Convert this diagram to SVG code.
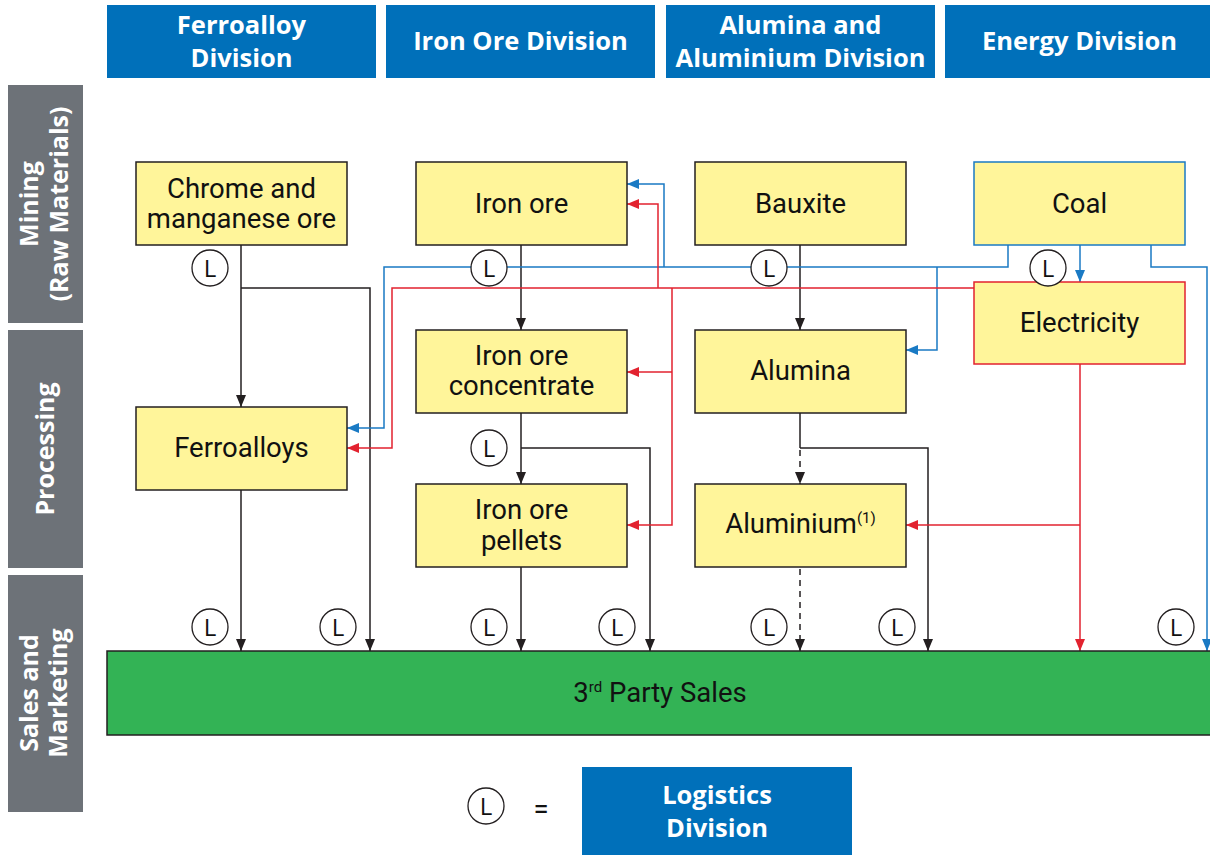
<svg xmlns="http://www.w3.org/2000/svg" width="1210" height="855" viewBox="0 0 1210 855">
  <style>
    .hdr { fill: #0070BA; }
    .hdr-t { font-family: "Open Sans", "Liberation Sans", sans-serif; font-weight: bold; font-size: 25.5px; fill: #ffffff; text-anchor: middle; }
    .side { fill: #6D7278; }
    .side-t { font-family: "Open Sans", "Liberation Sans", sans-serif; font-weight: bold; font-size: 25px; fill: #ffffff; text-anchor: middle; }
    .node { fill: #FFF59A; stroke: #231F20; stroke-width: 1.5; }
    .node-coal { fill: #FFF59A; stroke: #1A7AC4; stroke-width: 1.5; }
    .node-elec { fill: #FFF59A; stroke: #E2222F; stroke-width: 1.5; }
    .node-t { font-family: Roboto, "Liberation Sans", sans-serif; font-size: 27.5px; fill: #111111; text-anchor: middle; }
    .sales { fill: #33B355; stroke: #231F20; stroke-width: 1.5; }
    .blk { fill: none; stroke: #231F20; stroke-width: 1.5; }
    .dash { stroke-dasharray: 6 5; }
    .blu { fill: none; stroke: #1A7AC4; stroke-width: 1.5; }
    .red { fill: none; stroke: #E2222F; stroke-width: 1.5; }
    .lc { fill: #ffffff; stroke: #231F20; stroke-width: 1.3; }
    .lt { font-family: "Open Sans", "Liberation Sans", sans-serif; font-size: 24px; fill: #111111; text-anchor: middle; }
  </style>
  <defs>
    <marker id="ab" markerUnits="userSpaceOnUse" markerWidth="12" markerHeight="12" viewBox="0 0 12 12" refX="12" refY="6" orient="auto">
      <path d="M0,1 L12,6 L0,11 Z" fill="#231F20"/>
    </marker>
    <marker id="au" markerUnits="userSpaceOnUse" markerWidth="12" markerHeight="12" viewBox="0 0 12 12" refX="12" refY="6" orient="auto">
      <path d="M0,1 L12,6 L0,11 Z" fill="#1A7AC4"/>
    </marker>
    <marker id="ar" markerUnits="userSpaceOnUse" markerWidth="12" markerHeight="12" viewBox="0 0 12 12" refX="12" refY="6" orient="auto">
      <path d="M0,1 L12,6 L0,11 Z" fill="#E2222F"/>
    </marker>
  </defs>

  <!-- division headers -->
  <g id="hdr-ferroalloy">
    <rect class="hdr" x="107" y="5" width="269" height="73"/>
    <text class="hdr-t"><tspan x="241.5" y="34">Ferroalloy</tspan><tspan x="241.5" y="67">Division</tspan></text>
  </g>
  <g id="hdr-ironore">
    <rect class="hdr" x="386" y="5" width="269" height="73"/>
    <text class="hdr-t" x="520.5" y="50">Iron Ore Division</text>
  </g>
  <g id="hdr-alumina">
    <rect class="hdr" x="666" y="5" width="269" height="73"/>
    <text class="hdr-t"><tspan x="800.5" y="34">Alumina and</tspan><tspan x="800.5" y="67">Aluminium Division</tspan></text>
  </g>
  <g id="hdr-energy">
    <rect class="hdr" x="945" y="5" width="265" height="73"/>
    <text class="hdr-t" x="1079.5" y="50">Energy Division</text>
  </g>

  <!-- stage bands -->
  <g id="band-mining">
    <rect class="side" x="8" y="85" width="75" height="238"/>
    <text class="side-t" transform="translate(45,204) rotate(-90)"><tspan x="0" y="-7">Mining</tspan><tspan x="0" y="23">(Raw Materials)</tspan></text>
  </g>
  <g id="band-processing">
    <rect class="side" x="8" y="330" width="75" height="238"/>
    <text class="side-t" transform="translate(45,449) rotate(-90)"><tspan x="0" y="9">Processing</tspan></text>
  </g>
  <g id="band-sales">
    <rect class="side" x="8" y="575" width="75" height="237"/>
    <text class="side-t" transform="translate(45,693) rotate(-90)"><tspan x="0" y="-7">Sales and</tspan><tspan x="0" y="22">Marketing</tspan></text>
  </g>

  <!-- connectors -->
  <g id="connectors">
    <!-- material flows -->
    <path class="blk" d="M241,245 V407" marker-end="url(#ab)"/>
    <path class="blk" d="M241,288 H370 V651" marker-end="url(#ab)"/>
    <path class="blk" d="M241,490 V651" marker-end="url(#ab)"/>
    <path class="blk" d="M521,245 V330" marker-end="url(#ab)"/>
    <path class="blk" d="M521,413 V484" marker-end="url(#ab)"/>
    <path class="blk" d="M521,448 H650 V651" marker-end="url(#ab)"/>
    <path class="blk" d="M521,567 V651" marker-end="url(#ab)"/>
    <path class="blk" d="M800,245 V330" marker-end="url(#ab)"/>
    <path class="blk" d="M800,413 V448"/>
    <path class="blk dash" d="M800,450 V484" marker-end="url(#ab)"/>
    <path class="blk" d="M800,448 H928 V651" marker-end="url(#ab)"/>
    <path class="blk dash" d="M800,569 V651" marker-end="url(#ab)"/>
    <!-- coal supply -->
    <path class="blu" d="M1008,245 V267 H384 V428 H347" marker-end="url(#au)"/>
    <path class="blu" d="M937,267 V350 H906" marker-end="url(#au)"/>
    <path class="blu" d="M664,267 V184 H627" marker-end="url(#au)"/>
    <path class="blu" d="M1080,245 V282" marker-end="url(#au)"/>
    <path class="blu" d="M1151,245 V267 H1207 V651" marker-end="url(#au)"/>
    <!-- electricity supply -->
    <path class="red" d="M974,288 H392 V448 H347" marker-end="url(#ar)"/>
    <path class="red" d="M658,288 V204 H627" marker-end="url(#ar)"/>
    <path class="red" d="M672,288 V525 H627" marker-end="url(#ar)"/>
    <path class="red" d="M672,372 H627" marker-end="url(#ar)"/>
    <path class="red" d="M1080,364 V651" marker-end="url(#ar)"/>
    <path class="red" d="M1080,525 H906" marker-end="url(#ar)"/>
  </g>

  <!-- nodes -->
  <g id="n-chrome">
    <rect class="node" x="136" y="162" width="211" height="83"/>
    <text class="node-t"><tspan x="241.5" y="198">Chrome and</tspan><tspan x="241.5" y="228">manganese ore</tspan></text>
  </g>
  <g id="n-ironore">
    <rect class="node" x="416" y="162" width="211" height="83"/>
    <text class="node-t" x="521.5" y="213">Iron ore</text>
  </g>
  <g id="n-bauxite">
    <rect class="node" x="695" y="162" width="211" height="83"/>
    <text class="node-t" x="800.5" y="213">Bauxite</text>
  </g>
  <g id="n-coal">
    <rect class="node-coal" x="974" y="162" width="211" height="83"/>
    <text class="node-t" x="1079.5" y="213">Coal</text>
  </g>
  <g id="n-electricity">
    <rect class="node-elec" x="974" y="282" width="211" height="82"/>
    <text class="node-t" x="1079.5" y="332">Electricity</text>
  </g>
  <g id="n-concentrate">
    <rect class="node" x="416" y="330" width="211" height="83"/>
    <text class="node-t"><tspan x="521.5" y="365">Iron ore</tspan><tspan x="521.5" y="395">concentrate</tspan></text>
  </g>
  <g id="n-alumina">
    <rect class="node" x="695" y="330" width="211" height="83"/>
    <text class="node-t" x="800.5" y="380">Alumina</text>
  </g>
  <g id="n-ferroalloys">
    <rect class="node" x="136" y="407" width="211" height="83"/>
    <text class="node-t" x="241.5" y="457">Ferroalloys</text>
  </g>
  <g id="n-pellets">
    <rect class="node" x="416" y="484" width="211" height="83"/>
    <text class="node-t"><tspan x="521.5" y="519">Iron ore</tspan><tspan x="521.5" y="550">pellets</tspan></text>
  </g>
  <g id="n-aluminium">
    <rect class="node" x="695" y="484" width="211" height="83"/>
    <text class="node-t" x="800.5" y="533">Aluminium<tspan font-size="15" dy="-10">(1)</tspan></text>
  </g>
  <g id="n-sales">
    <rect class="sales" x="107" y="651" width="1110" height="84"/>
    <text class="node-t" x="660" y="702">3<tspan font-size="15" dy="-10">rd</tspan><tspan dy="10"> Party Sales</tspan></text>
  </g>

  <!-- logistics markers -->
  <g id="logistics-marks">
    <circle class="lc" cx="210" cy="268" r="18"/><text class="lt" x="210" y="276.5">L</text>
    <circle class="lc" cx="489" cy="268" r="18"/><text class="lt" x="489" y="276.5">L</text>
    <circle class="lc" cx="769" cy="268" r="18"/><text class="lt" x="769" y="276.5">L</text>
    <circle class="lc" cx="1048" cy="268" r="18"/><text class="lt" x="1048" y="276.5">L</text>
    <circle class="lc" cx="489" cy="448" r="18"/><text class="lt" x="489" y="456.5">L</text>
    <circle class="lc" cx="210" cy="627" r="18"/><text class="lt" x="210" y="635.5">L</text>
    <circle class="lc" cx="338" cy="627" r="18"/><text class="lt" x="338" y="635.5">L</text>
    <circle class="lc" cx="489" cy="627" r="18"/><text class="lt" x="489" y="635.5">L</text>
    <circle class="lc" cx="617" cy="627" r="18"/><text class="lt" x="617" y="635.5">L</text>
    <circle class="lc" cx="769" cy="627" r="18"/><text class="lt" x="769" y="635.5">L</text>
    <circle class="lc" cx="897" cy="627" r="18"/><text class="lt" x="897" y="635.5">L</text>
    <circle class="lc" cx="1176" cy="627" r="18"/><text class="lt" x="1176" y="635.5">L</text>
  </g>

  <!-- legend -->
  <g id="legend">
    <circle class="lc" cx="486" cy="806" r="18"/><text class="lt" x="486" y="814.5">L</text>
    <text class="node-t" x="541" y="818" font-size="38">=</text>
    <rect class="hdr" x="582" y="767" width="270" height="88"/>
    <text class="hdr-t"><tspan x="717" y="804">Logistics</tspan><tspan x="717" y="837">Division</tspan></text>
  </g>
</svg>
